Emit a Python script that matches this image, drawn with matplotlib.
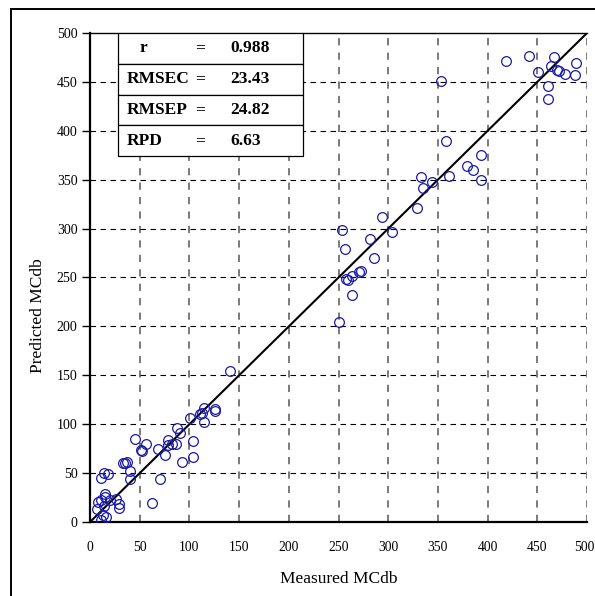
import matplotlib.pyplot as plt
import matplotlib.patches as patches
import matplotlib.transforms as mtransforms

plt.rcParams['font.family'] = 'Liberation Serif'
plt.rcParams['font.size'] = 10

# measured vs predicted moisture content (dry basis)
measured = [418, 442, 467, 489, 451, 464, 470, 472, 478, 488, 461, 461,
            353, 358, 393, 379, 385, 393, 361, 344, 333, 335, 329, 294,
            304, 253, 282, 257, 286, 273, 271, 264, 258, 260, 264, 250,
            141, 126, 126, 115, 113, 111, 115, 101, 88, 91, 104, 104,
            93, 86, 82, 78, 78, 75, 68, 70, 62,
            45, 56, 51, 52, 33, 35, 37, 40, 40, 11, 14, 18, 15, 15,
            11, 8, 20, 26, 29, 29, 7, 14, 13, 16, 11]
predicted = [471, 477, 475, 469, 460, 466, 462, 461, 458, 457, 446, 433,
             451, 390, 375, 364, 360, 350, 354, 348, 353, 342, 321, 312,
             297, 299, 289, 279, 270, 257, 256, 252, 248, 247, 232, 205,
             154, 116, 113, 117, 111, 110, 102, 106, 96, 91, 83, 66,
             61, 80, 80, 84, 79, 68, 75, 44, 19,
             85, 80, 74, 73, 60, 60, 61, 52, 44, 45, 50, 49, 29, 26,
             22, 20, 22, 23, 18, 14, 13, 16, 7, 5, 2]

stat_names = ['r', 'RMSEC', 'RMSEP', 'RPD']
stat_values = ['0.988', '23.43', '24.82', '6.63']

fig = plt.figure(figsize=(5.95, 5.96), dpi=100)
ax = fig.add_axes([0.1513, 0.1242, 0.8353, 0.8204])

# outer frame around the chart area
fig.patches.append(patches.Rectangle((0.0185, -0.05), 1.1, 1.035,
                                     transform=fig.transFigure, fill=False,
                                     edgecolor='black', linewidth=1.4))

ticks = list(range(0, 501, 50))
for t in ticks[1:]:
    ax.axvline(t, color='#707070', linestyle=(0, (4, 4)), linewidth=1.3, zorder=1)
for t in ticks[1:-1]:
    ax.axhline(t, color='black', linestyle=(0, (5, 4)), linewidth=0.8, zorder=1)

ax.plot([0, 500], [0, 500], color='black', linewidth=1.5, zorder=2)
ax.plot(measured, predicted, linestyle='none', marker='o', markersize=7,
        markerfacecolor='none', markeredgecolor='#1a1aa6', markeredgewidth=0.9,
        zorder=3)

# statistics box
row_h = 31.5
x0, x1 = 28, 214
for i, (name, val) in enumerate(zip(stat_names, stat_values)):
    top = 500 - i * row_h
    ax.add_patch(patches.Rectangle((x0, top - row_h), x1 - x0, row_h,
                                   facecolor='white', edgecolor='black',
                                   linewidth=0.9, zorder=4))
    yc = top - row_h / 2
    ax.text(50 if name == 'r' else 37, yc, name, fontweight='bold',
            fontsize=12.5, va='center', ha='left', zorder=5)
    ax.text(111, yc, '=', fontweight='bold', fontsize=12.5,
            va='center', ha='center', zorder=5)
    ax.text(141, yc, val, fontweight='bold', fontsize=12.5,
            va='center', ha='left', zorder=5)

ax.set_xlim(0, 500)
ax.set_ylim(0, 500)
ax.set_xticks(ticks)
ax.set_yticks(ticks)
ax.tick_params(axis='y', direction='out', length=6, width=1, pad=3, labelsize=10)
ax.tick_params(axis='x', direction='out', length=0, pad=14, labelsize=9.8)

# nudge the last x label so it stays inside the figure
last = ax.get_xticklabels()[-1]
last.set_transform(last.get_transform() +
                   mtransforms.ScaledTranslation(-3 / 100, 0, fig.dpi_scale_trans))

for side in ['left', 'bottom']:
    ax.spines[side].set_linewidth(1.6)
ax.spines['top'].set_linewidth(1.0)
ax.spines['right'].set_visible(False)

ax.set_xlabel('Measured MCdb', fontsize=12.5, va='center')
ax.set_ylabel('Predicted MCdb', fontsize=12.5, va='center')
ax.xaxis.set_label_coords(0.5, -0.117)
ax.yaxis.set_label_coords(-0.105, 0.423)

fig.savefig('out.png', dpi=100)
